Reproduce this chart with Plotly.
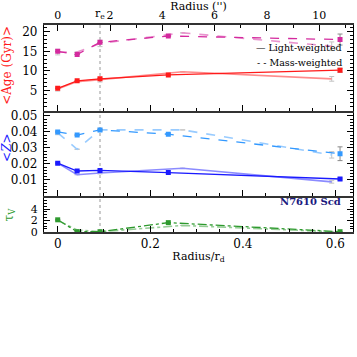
import plotly.graph_objects as go

# radii in units of disc scale length (main fit and alternative fit)
r_main = [0.0, 0.042, 0.0914, 0.239, 0.61]
r_alt = [0.0, 0.042, 0.0914, 0.27, 0.592]
RD_ARCSEC = 17.7
R_E = 0.0914

age_lw = [5.6, 7.5, 8.0, 9.0, 10.2]
age_lw_alt = [5.4, 7.3, 7.8, 9.8, 8.0]
age_mw = [15.0, 14.2, 17.3, 18.9, 18.0]
age_mw_alt = [14.8, 14.8, 17.0, 19.7, 16.3]

z_lw = [0.0205, 0.0156, 0.0160, 0.0146, 0.0106]
z_lw_alt = [0.0205, 0.0133, 0.0144, 0.0173, 0.0088]
z_mw = [0.0400, 0.0381, 0.0413, 0.0386, 0.0264]
z_mw_alt = [0.0395, 0.0292, 0.0413, 0.0413, 0.0257]

tau = [2.1, 0.0, 0.0, 1.6, 0.0]
tau_alt = [2.0, 0.3, 0.0, 1.1, 0.0]

# uncertainties (None = no bar)
age_lw_err = [None, None, None, None, 0.5]
age_lw_alt_err = [0.5, None, 0.6, None, 0.6]
age_mw_err = [None, None, None, None, 1.4]
age_mw_alt_err = [0.7, None, 0.8, None, 1.1]
z_lw_err = [None, None, None, None, 0.0006]
z_lw_alt_err = [0.0006, None, 0.0006, None, 0.0008]
z_mw_err = [None, None, None, None, 0.0043]
z_mw_alt_err = [0.0012, None, 0.0010, None, 0.0020]

age_ticks = [5, 10, 15, 20]
z_ticks = [0.01, 0.02, 0.03, 0.04, 0.05]
tau_ticks = [0, 2, 4]

SERIF = 'DejaVu Serif'
GREY = '#8a8a8a'
AXC = '#333333'

fig = go.Figure()


def add_pair(y_main, y_alt, err_main, err_alt, color, dash, yaxis, xaxis):
    fig.add_trace(go.Scatter(
        x=r_alt, y=y_alt, xaxis=xaxis, yaxis=yaxis, mode='lines',
        line=dict(color=color, width=1.6, dash=dash), opacity=0.5,
        error_y=dict(type='data', array=err_alt, color=GREY, thickness=1, width=2.5),
        showlegend=False, hoverinfo='skip',
    ))
    fig.add_trace(go.Scatter(
        x=r_main, y=y_main, xaxis=xaxis, yaxis=yaxis, mode='lines+markers',
        line=dict(color=color, width=1.3, dash=dash),
        marker=dict(symbol='square', size=5, color=color),
        error_y=dict(type='data', array=err_main, color=GREY, thickness=1, width=2.5),
        showlegend=False, hoverinfo='skip',
    ))


add_pair(age_lw, age_lw_alt, age_lw_err, age_lw_alt_err, '#ff1a1a', 'solid', 'y', 'x3')
add_pair(age_mw, age_mw_alt, age_mw_err, age_mw_alt_err, '#d42a9e', 'dash', 'y', 'x3')
add_pair(z_lw, z_lw_alt, z_lw_err, z_lw_alt_err, '#1a1aff', 'solid', 'y2', 'x2')
add_pair(z_mw, z_mw_alt, z_mw_err, z_mw_alt_err, '#3399ff', 'dash', 'y2', 'x2')
add_pair(tau, tau_alt, [None] * 5, [None] * 5, '#2e9a2e', 'dashdot', 'y3', 'x')

# invisible trace to carry the top (arcsec) axis
fig.add_trace(go.Scatter(
    x=[r * RD_ARCSEC for r in r_main], y=age_lw, xaxis='x4', yaxis='y',
    mode='markers', marker=dict(opacity=0), showlegend=False, hoverinfo='skip',
))

xr = [-0.0296, 0.638]
tickfont = dict(family=SERIF, size=12, color='black')

xcommon = dict(
    range=xr, ticks='inside', ticklen=6, tickwidth=1, tickcolor='black',
    tick0=0, dtick=0.2, showgrid=False, zeroline=False, automargin=False,
    showline=True, linecolor=AXC, linewidth=1.5,
    minor=dict(ticks='inside', ticklen=3, dtick=0.05, tick0=0, tickcolor='black'),
    tickfont=tickfont,
)
ycommon = dict(
    ticks='inside', ticklen=6, tickcolor='black', showgrid=False, zeroline=False,
    showline=True, linecolor='black', linewidth=1.2, mirror='ticks',
    tickfont=tickfont, automargin=False, ticklabelstandoff=3,
)

ytitle = dict(xref='paper', yref='paper', xanchor='center', yanchor='middle',
              textangle=-90, showarrow=False)

fig.update_layout(
    width=357, height=357,
    margin=dict(l=44, r=4, t=25, b=125, autoexpand=False),
    paper_bgcolor='white', plot_bgcolor='white',
    font=dict(family=SERIF, size=11, color='black'),
    xaxis=dict(xcommon, anchor='y3', domain=[0, 1],
               title=dict(text='Radius/r<sub>d</sub>', font=dict(family=SERIF, size=11), standoff=2)),
    xaxis2=dict(xcommon, anchor='y2', domain=[0, 1], matches='x', showticklabels=False),
    xaxis3=dict(xcommon, anchor='y', domain=[0, 1], matches='x', showticklabels=False),
    xaxis4=dict(
        overlaying='x3', side='top', anchor='y', automargin=False,
        range=[xr[0] * RD_ARCSEC, xr[1] * RD_ARCSEC],
        ticks='inside', ticklen=6, tickcolor='black', tick0=0, dtick=2,
        minor=dict(ticks='inside', ticklen=3, dtick=1, tickcolor='black'),
        showgrid=False, zeroline=False, showline=True, linecolor=AXC, linewidth=1.5,
        tickfont=dict(family=SERIF, size=11, color='black'),
        title=dict(text="Radius ('')", font=dict(family=SERIF, size=11), standoff=0),
    ),
    yaxis=dict(
        ycommon, domain=[0.586, 1], anchor='x', range=[-0.1, 21.7],
        tickvals=age_ticks, ticktext=[str(v) for v in age_ticks],
        minor=dict(ticks='inside', ticklen=3, dtick=1, tick0=0, tickcolor='black'),
    ),
    yaxis2=dict(
        ycommon, domain=[0.174, 0.586], anchor='x', range=[0, 0.0533],
        tickvals=z_ticks, ticktext=[f'{v:.2f}' for v in z_ticks],
        minor=dict(ticks='inside', ticklen=3, dtick=0.002, tick0=0, tickcolor='black'),
    ),
    yaxis3=dict(
        ycommon, domain=[0, 0.174], anchor='x', range=[-0.05, 6.3],
        tickvals=tau_ticks, ticktext=[str(v) for v in tau_ticks],
        tickfont=dict(family=SERIF, size=11, color='black'),
        minor=dict(ticks='inside', ticklen=3, dtick=0.5, tick0=0, tickcolor='black'),
    ),
    shapes=[dict(
        type='line', xref='x', yref='paper', x0=R_E, x1=R_E, y0=0, y1=1,
        line=dict(color='#aaaaaa', width=1.2, dash='dot'), layer='below',
    )],
    annotations=[
        dict(ytitle, text='&lt;Age (Gyr)&gt;', x=-0.12, y=0.807,
             font=dict(family=SERIF, size=12, color='#ff1a1a')),
        dict(ytitle, text='&lt;<i>Z</i>&gt;', x=-0.12, y=0.406,
             font=dict(family=SERIF, size=12, color='#1a1aff')),
        dict(ytitle, text='τ<sub>V</sub>', x=-0.11, y=0.085,
             font=dict(family=SERIF, size=12, color='#2e9a2e')),
        dict(text='r<sub>e</sub>', xref='x', yref='paper', x=R_E, y=1.0, yanchor='bottom',
             xanchor='center', yshift=2, showarrow=False, font=dict(family=SERIF, size=11)),
        dict(text='— Light-weighted', xref='paper', yref='paper', x=0.97, y=0.928,
             xanchor='right', showarrow=False, font=dict(family=SERIF, size=9.5)),
        dict(text='- - Mass-weighted', xref='paper', yref='paper', x=0.97, y=0.855,
             xanchor='right', showarrow=False, font=dict(family=SERIF, size=9.5)),
        dict(text='<b>N7610 Scd</b>', xref='paper', yref='paper', x=0.968, y=0.111,
             xanchor='right', showarrow=False, font=dict(family=SERIF, size=10, color='#1a1a80')),
    ],
)

fig.write_html('out.html', config={'displayModeBar': False},
               post_script="document.body.style.margin='0';")
